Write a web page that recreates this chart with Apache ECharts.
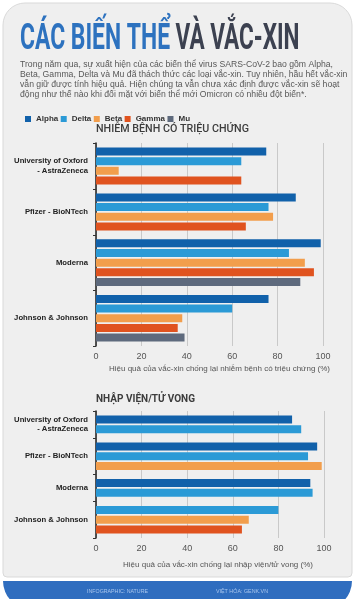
<!DOCTYPE html>
<html><head><meta charset="utf-8">
<script src="https://cdn.jsdelivr.net/npm/echarts@6/dist/echarts.min.js"></script>
<style>html,body{margin:0;padding:0;background:#ffffff;}#c{width:355px;height:599px;}</style>
</head><body><div id="c"></div>
<script>
// ---------- data ----------
const variants = ['Alpha', 'Delta', 'Beta', 'Gamma', 'Mu'];
const vaccines = ['University of Oxford\n- AstraZeneca', 'Pfizer - BioNTech', 'Moderna', 'Johnson & Johnson'];
const xTicks = [0, 20, 40, 60, 80, 100];
// Chart 1: symptomatic infection (%)
const symAlpha = [75, 88, 99, 76];
const symDelta = [64, 76, 85, 60];
const symBeta  = [10, 78, 92, 38];
const symGamma = [64, 66, 96, 36];
const symMu    = [null, null, 90, 39];
// Chart 2: hospitalisation / death (%)
const hospAlpha = [86, 97, 94, null];
const hospDelta = [90, 93, 95, 80];
const hospBeta  = [null, 99, null, 67];
const hospGamma = [null, null, null, 64];
const hospMu    = [null, null, null, null];

const colors = ['#1161aa', '#2b9ad6', '#f29e4c', '#e0531f', '#5e6a7d'];

// ---------- slot layout on a fine category axis ----------
function layout(vals) {
  let idx = 3;
  const bars = [], centers = [], ticks = [0];
  vaccines.forEach((_, g) => {
    const ks = [0, 1, 2, 3, 4].filter(k => vals[k][g] != null);
    if (g > 0) ticks.push(idx - 3);
    const first = idx;
    ks.forEach(k => { bars.push({k: k, g: g, i: idx}); idx += 4; });
    const last = idx - 4;
    centers.push({g: g, i: (first + last) / 2});
    idx = last + 7;
  });
  const N = idx - 7 + 4;
  const ids = Array.from({length: N}, (_, i) => 's' + i);
  const labels = Array.from({length: N}, () => '');
  centers.forEach(c => { labels[c.i] = vaccines[c.g]; });
  const data = variants.map(() => Array.from({length: N}, () => '-'));
  bars.forEach(b => { data[b.k][b.i] = vals[b.k][b.g]; });
  return {ids: ids, labels: labels, data: data, tickSet: new Set(ticks)};
}
const L1 = layout([symAlpha, symDelta, symBeta, symGamma, symMu]);
const L2 = layout([hospAlpha, hospDelta, hospBeta, hospGamma, hospMu]);

// ---------- text fitting helper ----------
const measureCtx = document.createElement('canvas').getContext('2d');
function fitScale(text, font, target) {
  measureCtx.font = font;
  return target / measureCtx.measureText(text).width;
}
function fitText(text, x, y, font, fill, target, extra) {
  return Object.assign({
    type: 'text', x: x, y: y, scaleX: fitScale(text, font, target), silent: true, z: 5,
    style: {text: text, font: font, fill: fill, textAlign: 'left', textVerticalAlign: 'middle', align: 'left', verticalAlign: 'middle'}
  }, extra || {});
}

const titleFont = 'bold 36px Roboto';
const bodyFont = '8.6px "Liberation Sans"';
const bodyLines = [
  'Trong năm qua, sự xuất hiện của các biến thể virus SARS-CoV-2 bao gồm Alpha,',
  'Beta, Gamma, Delta và Mu đã thách thức các loại vắc-xin. Tuy nhiên, hầu hết vắc-xin',
  'vẫn giữ được tính hiệu quả. Hiện chúng ta vẫn chưa xác định được vắc-xin sẽ hoạt',
  'động như thế nào khi đối mặt với biến thể mới Omicron có nhiều đột biến*.'
];
const bodyScale = fitScale(bodyLines[0], bodyFont, 313);

const graphics = [
  {type: 'rect', z: -10, silent: true, shape: {x: 3, y: 3, width: 349, height: 574, r: [22, 22, 4, 4]},
   style: {fill: '#efefef', stroke: '#d9d9d9', lineWidth: 1}},
  {type: 'rect', z: -10, silent: true, shape: {x: 3, y: 581, width: 349, height: 28, r: [0, 0, 28, 28]},
   style: {fill: '#2f6dbf'}},
  fitText('CÁC BIẾN THỂ', 20, 40, titleFont, '#2d72bf', 150),
  fitText('VÀ VẮC-XIN', 175.5, 40, titleFont, '#3c4150', 124),
  fitText('NHIỄM BỆNH CÓ TRIỆU CHỨNG', 96, 129, '500 11px Roboto', '#3d3d3d', 153),
  fitText('NHẬP VIỆN/TỬ VONG', 96, 399.5, 'bold 11px Roboto', '#3d3d3d', 99),
  fitText('INFOGRAPHIC: NATURE', 87, 591, '6px "Liberation Sans"', '#a9c6ee', 61),
  fitText('VIỆT HÓA: GENK.VN', 216, 591, '6px "Liberation Sans"', '#a9c6ee', 52)
];
bodyLines.forEach((t, i) => {
  graphics.push({type: 'text', x: 20, y: 65 + i * 9.85, scaleX: bodyScale, silent: true, z: 5,
    style: {text: t, font: bodyFont, fill: '#585858', textAlign: 'left', textVerticalAlign: 'middle', align: 'left', verticalAlign: 'middle'}});
});

function yAxisFor(L, gridIndex) {
  return {
    type: 'category', gridIndex: gridIndex, inverse: true, data: L.ids,
    axisLine: {show: true, lineStyle: {color: '#1e1e1e', width: 1.5}},
    axisTick: {show: true, length: 3, interval: (i) => L.tickSet.has(i), lineStyle: {color: '#333', width: 1}},
    axisLabel: {interval: 0, margin: 8, formatter: (v, i) => L.labels[i], color: '#222', fontSize: 7.7,
      fontWeight: 'bold', fontFamily: '"Liberation Sans", Arial', lineHeight: 9.5, align: 'right'},
    splitLine: {show: false}
  };
}
function xAxisFor(gridIndex, name, gap, pad) {
  return {
    type: 'value', gridIndex: gridIndex, min: xTicks[0], max: xTicks[xTicks.length - 1], interval: xTicks[1] - xTicks[0],
    axisLine: {show: false}, axisTick: {show: false},
    splitLine: {show: true, lineStyle: {color: '#c9c9c9', width: 1}},
    axisLabel: {margin: 6, color: '#555', fontSize: 9, fontFamily: '"Liberation Sans", Arial'},
    name: name, nameLocation: 'middle', nameGap: gap,
    nameTextStyle: {color: '#555', fontSize: 8, fontFamily: '"Liberation Sans", Arial', padding: [0, 0, 0, pad]}
  };
}

const series = [];
[L1, L2].forEach((L, c) => {
  variants.forEach((name, k) => {
    series.push({
      type: 'bar', name: name, xAxisIndex: c, yAxisIndex: c, stack: 'chart' + c, barWidth: 8,
      data: L.data[k], itemStyle: {color: colors[k]}, silent: true
    });
  });
});

const chart = echarts.init(document.getElementById('c'), null, {renderer: 'canvas', width: 355, height: 599});
chart.setOption({
  animation: false,
  backgroundColor: 'transparent',
  color: colors,
  legend: {
    left: 20, top: 110, data: variants, icon: 'rect', itemWidth: 6, itemHeight: 6, itemGap: 2.5, selectedMode: false,
    textStyle: {fontSize: 8, fontWeight: 'bold', color: '#333', fontFamily: '"Liberation Sans", Arial'}
  },
  grid: [
    {left: 96, right: 32, top: 143, height: 203, containLabel: false, outerBoundsMode: 'none'},
    {left: 96, right: 31, top: 411, height: 127, containLabel: false, outerBoundsMode: 'none'}
  ],
  xAxis: [
    xAxisFor(0, 'Hiệu quả của vắc-xin chống lại nhiễm bệnh có triệu chứng (%)', 19, 20),
    xAxisFor(1, 'Hiệu quả của vắc-xin chống lại nhập viện/tử vong (%)', 23, 16)
  ],
  yAxis: [yAxisFor(L1, 0), yAxisFor(L2, 1)],
  series: series,
  graphic: graphics
});
</script>
</body></html>
